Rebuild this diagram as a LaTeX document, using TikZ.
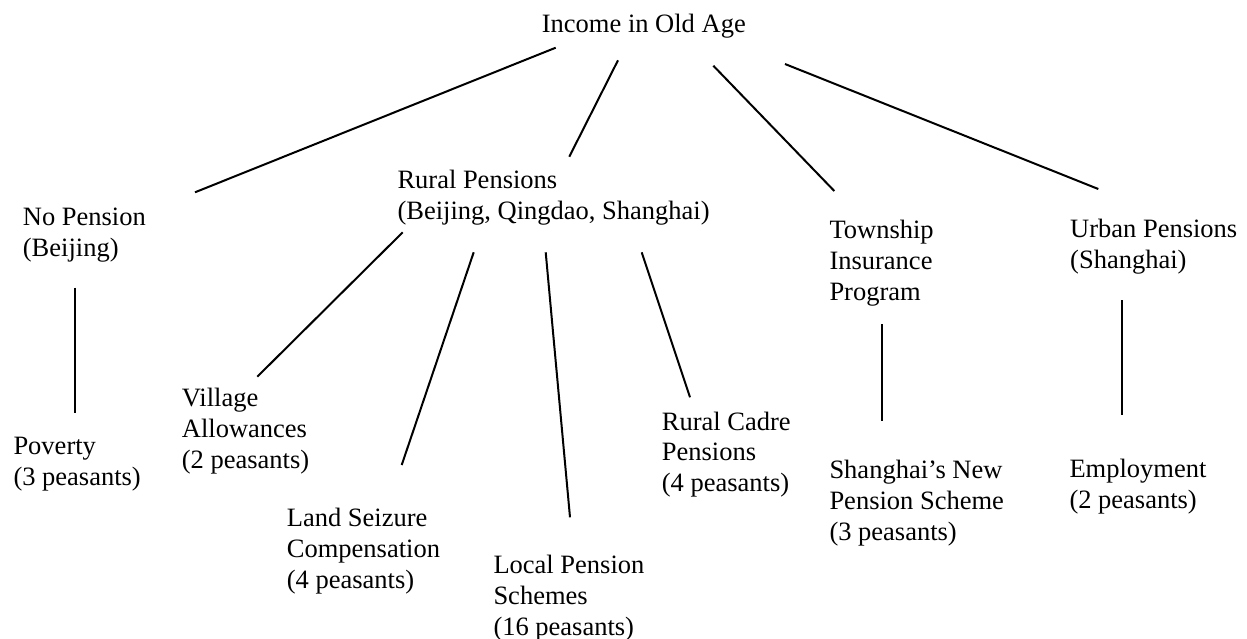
\documentclass[tikz,border=0pt]{standalone}
\usepackage{fontspec}
\setmainfont{Liberation Serif}
\begin{document}
\begin{tikzpicture}[x=1pt,y=-1pt,
  lbl/.style={anchor=base west,inner sep=0pt,align=left,font=\fontsize{26.5}{30.8}\selectfont},
  conn/.style={line width=2pt}]
\useasboundingbox (0,0) rectangle (1247,639);
\fill[white] (0,0) rectangle (1247,639);
% nodes (anchor = baseline of last line)
\node[lbl] (income) at (541.7,33) {Income in Old Age};
\node[lbl] (nopen) at (22.7,256.7) {No Pension\\(Beijing)};
\node[lbl] (rural) at (397.3,219.3) {Rural Pensions\\(Beijing, Qingdao, Shanghai)};
\node[lbl] (town) at (829.3,300) {Township\\Insurance\\Program};
\node[lbl] (urban) at (1070,268.3) {Urban Pensions\\(Shanghai)};
\node[lbl] (poverty) at (13.3,485) {Poverty\\(3 peasants)};
\node[lbl] (village) at (181.7,468) {Village\\Allowances\\(2 peasants)};
\node[lbl] (land) at (286.7,588.3) {Land Seizure\\Compensation\\(4 peasants)};
\node[lbl] (local) at (493.3,635) {Local Pension\\Schemes\\(16 peasants)};
\node[lbl] (cadre) at (661.7,491.7) {Rural Cadre\\Pensions\\(4 peasants)};
\node[lbl] (shnew) at (829.3,540) {Shanghai’s New\\Pension Scheme\\(3 peasants)};
\node[lbl] (employ) at (1069.3,508.3) {Employment\\(2 peasants)};
% connector end points
\coordinate (i1) at (555.7,47.7);  \coordinate (np1) at (195,192.3);
\coordinate (i2) at (618,60.3);    \coordinate (r1) at (569.3,156.7);
\coordinate (i3) at (713.3,65.7);  \coordinate (t1) at (834.3,191);
\coordinate (i4) at (785,64);      \coordinate (u1) at (1098.3,189);
\coordinate (np2) at (75.3,287.7); \coordinate (pv1) at (75.3,413.3);
\coordinate (r2) at (402.7,232.3); \coordinate (v1) at (257.3,376.7);
\coordinate (r3) at (473.7,252.3); \coordinate (l1) at (401.7,465);
\coordinate (r4) at (545.7,252.3); \coordinate (lc1) at (570,517.3);
\coordinate (r5) at (641.7,252.3); \coordinate (c1) at (690,397.3);
\coordinate (t2) at (881.7,324.3); \coordinate (s1) at (881.7,421);
\coordinate (u2) at (1121.7,300);  \coordinate (e1) at (1121.7,415);
% connectors
\draw[conn] (i1) -- (np1);
\draw[conn] (i2) -- (r1);
\draw[conn] (i3) -- (t1);
\draw[conn] (i4) -- (u1);
\draw[conn] (np2) -- (pv1);
\draw[conn] (r2) -- (v1);
\draw[conn] (r3) -- (l1);
\draw[conn] (r4) -- (lc1);
\draw[conn] (r5) -- (c1);
\draw[conn] (t2) -- (s1);
\draw[conn] (u2) -- (e1);
\end{tikzpicture}
\end{document}
